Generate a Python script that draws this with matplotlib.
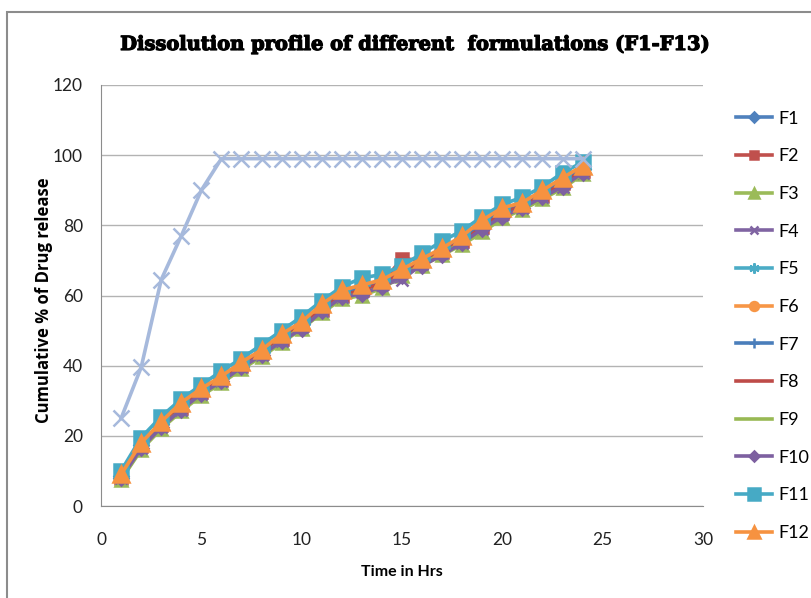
import matplotlib.pyplot as plt
import matplotlib.patheffects as pe
from matplotlib.patches import Rectangle

hours = list(range(1, 25))

f1 = [8.5, 17.5, 23.5, 28.5, 33, 36.5, 40.5, 44, 48, 52, 56.5, 60.5, 62, 64, 67, 70, 73, 76, 80.5, 84, 86, 89, 92.5, 96]
f2 = [8, 17, 23, 28, 32.5, 36, 40, 43.5, 47.5, 51.5, 56, 60, 61.5, 63.5, 70.5, 70, 72.5, 75.5, 79.5, 83.5, 85.5, 88.5, 92, 95.5]
f3 = [7.5, 16, 22, 27, 31.5, 35, 39, 42.5, 46.5, 50.5, 55, 59, 60, 62, 65.5, 68.5, 71.5, 74.5, 78, 82, 84.5, 87.5, 90.5, 94.5]
f4 = [8, 16.5, 22.5, 27.5, 32, 35.5, 39.5, 43, 47, 51, 55.5, 59.5, 61, 63, 64.5, 69, 72, 75, 79, 83, 85, 88, 91, 95]
f5 = [8.5, 17, 23, 28.5, 32.5, 36, 40, 43.5, 47.5, 51.5, 56, 60, 61.5, 63.5, 66.5, 69.5, 72.5, 75.5, 80, 83.5, 85.5, 88.5, 92, 95.5]
f6 = [9, 17.5, 23.5, 29, 33, 36.5, 40.5, 44, 48.5, 52, 57, 61, 62.5, 64, 67, 70, 73, 76.5, 81, 84.5, 86, 89.5, 93, 96.5]
f7 = [8.5, 17.5, 23.5, 28.5, 32.5, 36.5, 40.5, 43.5, 48, 51.5, 56.5, 60.5, 62, 63.5, 66.5, 70, 73, 76, 80.5, 84, 85.5, 89, 92.5, 96]
f8 = [8, 17, 23, 28, 32.5, 36, 40, 43.5, 47.5, 51.5, 56, 60, 61.5, 63.5, 66.5, 69.5, 72.5, 75.5, 79.5, 83.5, 85.5, 88.5, 92, 95.5]
f9 = [7.5, 16.5, 22.5, 27.5, 31.5, 35.5, 39, 43, 47, 51, 55, 59.5, 60.5, 62.5, 65.5, 69, 72, 75, 78.5, 82.5, 84.5, 87.5, 91, 94.5]
f10 = [8, 16.5, 22.5, 27.5, 32, 35.5, 39.5, 43, 47, 50.5, 55.5, 59.5, 60.5, 62.5, 65.5, 68.5, 71.5, 75, 79, 82.5, 85, 88, 91, 95]
f11 = [10, 19.5, 25.5, 30.5, 34.5, 38.5, 42, 46, 50, 54, 58.5, 62.5, 65, 66, 68.5, 72, 75.5, 78.5, 82.5, 86, 88, 91, 95, 98]
f12 = [9, 18, 24, 29.5, 33.5, 37, 41, 44.5, 49, 52.5, 57.5, 61.5, 63, 64.5, 67.5, 70.5, 73.5, 77, 81.5, 85, 86.5, 90, 93.5, 97]
f13 = [25, 39.5, 64.5, 77, 90, 99, 99, 99, 99, 99, 99, 99, 99, 99, 99, 99, 99, 99, 99, 99, 99, 99, 99, 99]

series = [
    ("F1", f1, "#4F81BD", "D", 7),
    ("F2", f2, "#C0504D", "s", 8),
    ("F3", f3, "#9BBB59", "^", 9),
    ("F4", f4, "#8064A2", "x", 8),
    ("F5", f5, "#4BACC6", (6, 2, 0), 9),
    ("F6", f6, "#F79646", "o", 8),
    ("F7", f7, "#4A7EBB", "+", 9),
    ("F8", f8, "#BE4B48", None, 0),
    ("F9", f9, "#98B954", None, 0),
    ("F10", f10, "#7D60A0", "D", 7),
    ("F11", f11, "#46AAC5", "s", 10),
    ("F12", f12, "#F69240", "^", 11),
    ("F13", f13, "#A6B9DC", "x", 11),
]

fig = plt.figure(figsize=(8.12, 5.98), dpi=100)
ax = fig.add_axes([0.1244, 0.1538, 0.7414, 0.7041])

lines = []
for name, vals, col, mk, ms in series:
    ln, = ax.plot(hours, vals, color=col, lw=2.6, marker=mk, markersize=ms,
                  markeredgecolor=col, markerfacecolor=col, markeredgewidth=1.8,
                  label=name)
    lines.append(ln)

ax.set_xlim(0, 30)
ax.set_ylim(0, 120)
ax.set_xticks(range(0, 31, 5))
ax.set_yticks(range(0, 121, 20))
ax.yaxis.grid(True, color="#B3B3B3", lw=1.0)
ax.set_axisbelow(True)
for s in ["top", "right"]:
    ax.spines[s].set_visible(False)
for s in ["left", "bottom"]:
    ax.spines[s].set_color("#8C8C8C")
ax.tick_params(axis="x", length=0, labelsize=12.5, pad=19, labelcolor="#222222")
ax.tick_params(axis="y", length=0, labelsize=12.5, pad=13, labelcolor="#222222")
for lab in ax.get_xticklabels() + ax.get_yticklabels():
    lab.set_family("Lato")

ax.set_xlabel("Time in Hrs", fontsize=11.5, fontweight="bold", family="Lato", labelpad=12)
ax.set_ylabel("Cumulative % of Drug release", fontsize=12, fontweight="bold", family="Open Sans")
ax.yaxis.set_label_coords(-0.079, 0.49)

fig.text(0.511, 0.925, "Dissolution profile of different  formulations (F1-F13)",
         ha="center", va="center", fontsize=14, fontweight="bold", family="DejaVu Serif",
         path_effects=[pe.withStroke(linewidth=0.9, foreground="black")])

fig.legend(handles=lines[:12], loc="upper left", bbox_to_anchor=(0.906, 0.815),
           frameon=False, handlelength=2.0, handletextpad=0.35, markerscale=0.8,
           labelspacing=1.2, borderaxespad=0, borderpad=0, prop={"family": "Lato", "size": 13})

fig.patches.append(Rectangle((7 / 812, -0.1), 1.2, 1 - 12 / 598 + 0.1, transform=fig.transFigure,
                             fill=False, edgecolor="#8C8C8C", lw=1.5))

fig.savefig("out.png", dpi=100)
